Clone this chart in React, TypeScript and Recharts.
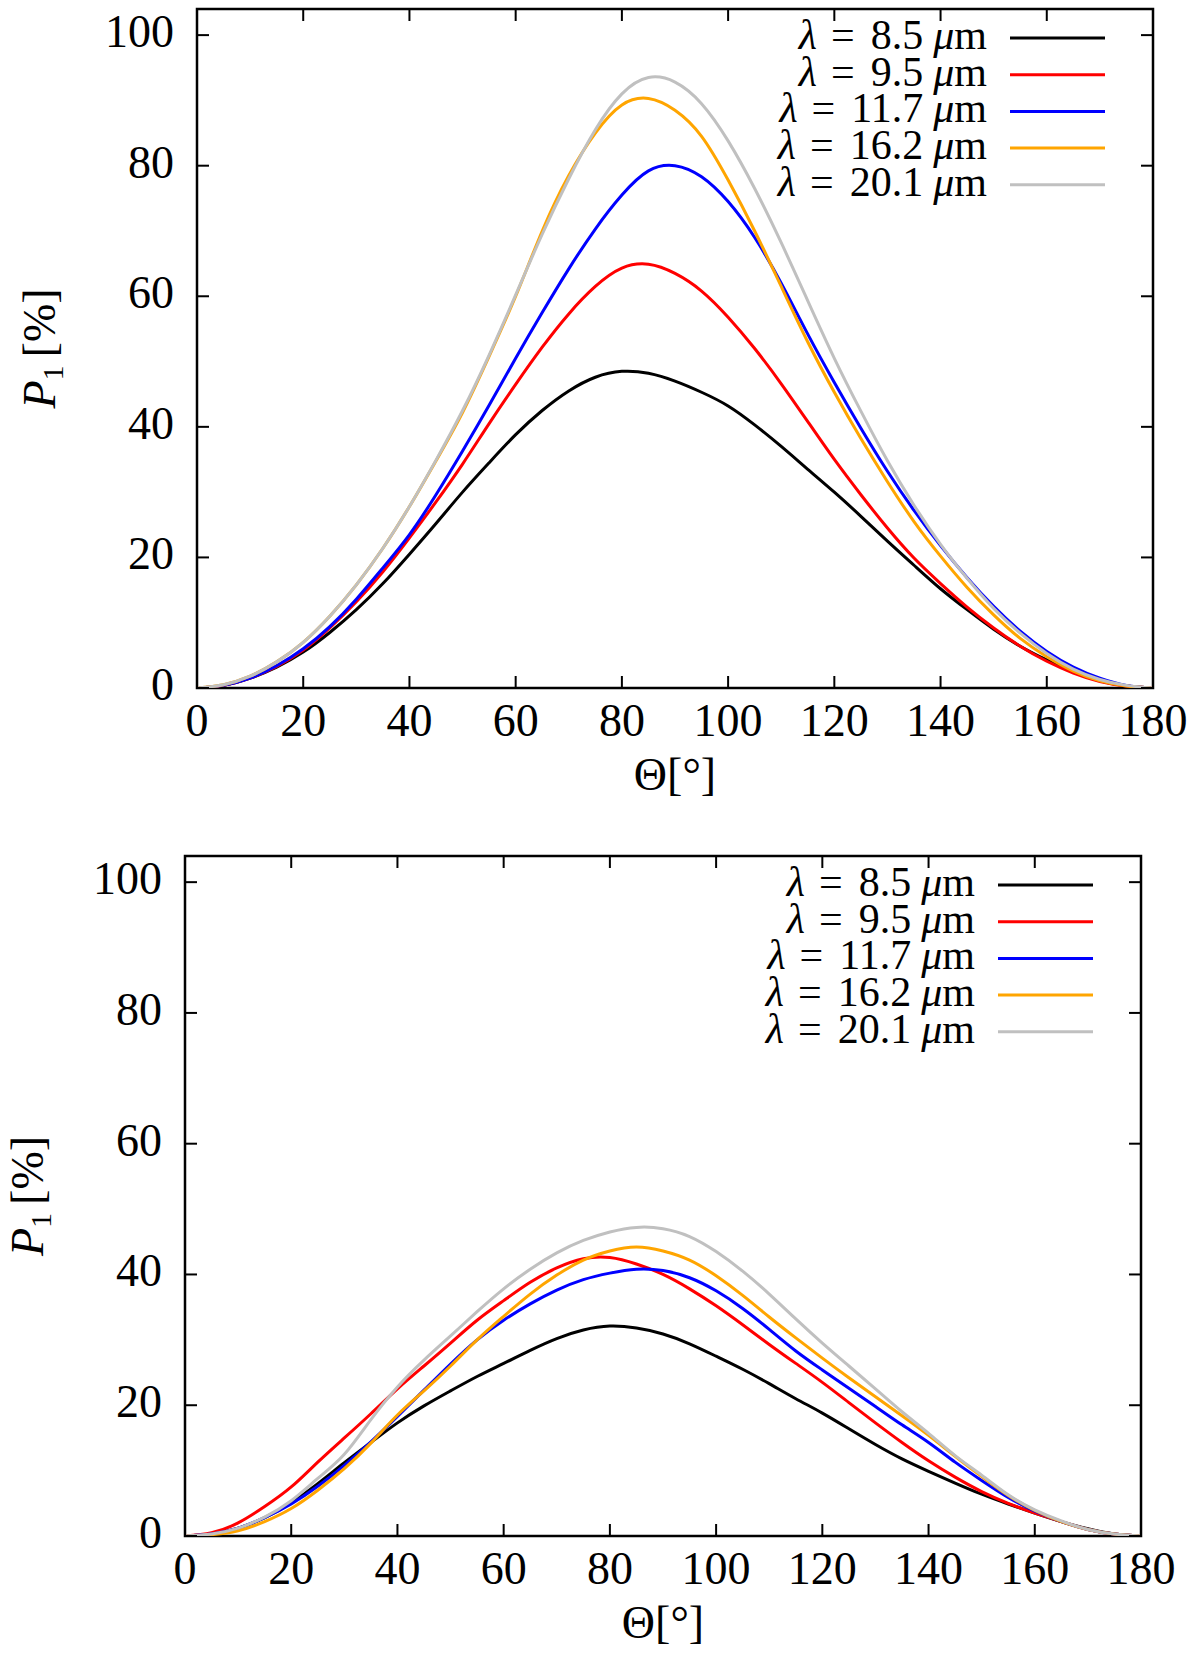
import React from "react";
import { LineChart, Line, XAxis, YAxis, ReferenceArea, Label } from "recharts";

// Degree of linear polarisation P1 versus scattering angle for five
// wavelengths, two stacked gnuplot-style panels.

const THETA = [
  0, 5, 10, 15, 20, 25, 30, 35, 40, 45, 50, 55, 60, 65, 70, 75, 80, 85, 90,
  95, 100, 105, 110, 115, 120, 125, 130, 135, 140, 145, 150, 155, 160, 165, 170,
  175, 180,
];

const X_TICKS = [0, 20, 40, 60, 80, 100, 120, 140, 160, 180];
const Y_TICKS = [0, 20, 40, 60, 80, 100];

const WAVELENGTHS = ["8.5", "9.5", "11.7", "16.2", "20.1"];
const COLORS = ["#000000", "#ff0000", "#0000ff", "#ffa500", "#c0c0c0"];

// upper panel
const TOP_85 = [
  0, 0.4, 1.5, 3.2, 5.5, 8.5, 12, 16, 20.5, 25.2, 30, 34.5, 38.8, 42.5, 45.5,
  47.6, 48.5, 48.2, 47, 45.3, 43.2, 40.3, 37, 33.5, 30, 26.3, 22.5, 18.8, 15.2,
  12, 9, 6.4, 4.3, 2.5, 1.1, 0.3, 0,
];
const TOP_95 = [
  0, 0.4, 1.5, 3.3, 5.8, 9.2, 13.2, 17.8, 23, 28.5, 34.3, 40.5, 46.5, 52.2,
  57.3, 61.5, 64.3, 64.9, 63.5, 60.8, 56.8, 52, 46.6, 40.8, 35, 29.6, 24.5,
  19.9, 16, 12.4, 9.2, 6.4, 4.1, 2.3, 1, 0.3, 0,
];
const TOP_117 = [
  0, 0.4, 1.5, 3.4, 6, 9.4, 13.6, 18.4, 23.5, 29.6, 36.3, 43.3, 50.5, 57.5,
  64.2, 70.3, 75.5, 79.2, 80, 78.3, 74.5, 69, 62, 54.2, 46.8, 39.8, 33.2, 27.2,
  21.8, 16.9, 12.5, 8.7, 5.6, 3.2, 1.5, 0.4, 0,
];
const TOP_162 = [
  0, 0.5, 1.8, 4, 7, 11, 15.8, 21.4, 27.8, 34.8, 42.2, 50.8, 60, 70, 78.5, 85,
  89.3, 90.3, 88.5, 84.5, 77.8, 70, 61.5, 53, 45.3, 38.2, 31.6, 25.5, 20.2,
  15.4, 11.2, 7.6, 4.8, 2.6, 1.1, 0.3, 0,
];
const TOP_201 = [
  0, 0.5, 1.8, 4, 7, 11, 15.8, 21.4, 27.8, 34.9, 42.5, 51, 60.2, 69.5, 78,
  85.5, 91, 93.5, 92.8, 89.5, 83.8, 76.5, 68.2, 59.3, 50.5, 42.4, 34.8, 28, 22,
  16.8, 12.2, 8.4, 5.3, 2.9, 1.3, 0.4, 0,
];

// lower panel
const BOT_85 = [
  0, 0.3, 1.2, 2.8, 5.1, 8, 11.2, 14.3, 17.3, 19.9, 22.2, 24.4, 26.4, 28.4,
  30.2, 31.5, 32.1, 31.8, 30.9, 29.4, 27.5, 25.5, 23.3, 21, 18.8, 16.4, 14,
  11.8, 9.9, 8.1, 6.4, 4.9, 3.5, 2.2, 1.1, 0.3, 0,
];
const BOT_95 = [
  0, 0.5, 2, 4.5, 7.5, 11.3, 15, 18.7, 22.5, 26, 29.5, 33, 36, 38.8, 41, 42.4,
  42.6, 41.6, 40, 37.8, 35.2, 32.3, 29.3, 26.4, 23.5, 20.4, 17.3, 14.3, 11.5,
  9, 6.8, 5, 3.5, 2.2, 1, 0.3, 0,
];
const BOT_117 = [
  0, 0.3, 1.2, 2.8, 4.9, 7.6, 10.8, 14.4, 18.3, 22.3, 26.3, 30, 33, 35.5, 37.6,
  39.2, 40.2, 40.8, 40.6, 39.5, 37.5, 34.8, 31.6, 28.3, 25.4, 22.6, 19.8, 17,
  14.3, 11.3, 8.5, 5.9, 3.8, 2.2, 1, 0.3, 0,
];
const BOT_162 = [
  0, 0.2, 0.8, 2.2, 4.2, 7, 10.3, 14.2, 18.5, 22.2, 26, 30, 33.6, 37, 39.9,
  42.2, 43.6, 44.2, 43.6, 42.2, 39.8, 36.8, 33.5, 30.3, 27.2, 24.2, 21.3, 18.4,
  15.4, 12.2, 9.1, 6.2, 3.9, 2.2, 1, 0.3, 0,
];
const BOT_201 = [
  0, 0.3, 1.2, 2.9, 5.4, 8.8, 12.5, 17.8, 22.8, 26.9, 30.6, 34.3, 37.8, 40.8,
  43.3, 45.2, 46.5, 47.2, 47, 45.8, 43.5, 40.5, 37, 33.2, 29.5, 26, 22.5, 19,
  15.7, 12.3, 9.3, 6.3, 4, 2.3, 1, 0.3, 0,
];

const FONT = "'Liberation Serif', 'DejaVu Serif', serif";
const TICK_LEN = 12;

function toRows(series: number[][]) {
  return THETA.map((t, i) => {
    const row: Record<string, number> = { theta: t };
    series.forEach((s, k) => {
      row["s" + k] = s[i];
    });
    return row;
  });
}

type PanelProps = {
  series: number[][];
  width: number;
  height: number;
  margin: { top: number; right: number; bottom: number; left: number };
};

const Y_AXIS_W = 60;
const X_AXIS_H = 60;

function Panel({ series, width, height, margin }: PanelProps) {
  const data = toRows(series);
  const plotW = width - margin.left - margin.right - Y_AXIS_W;
  const plotH = height - margin.top - margin.bottom - X_AXIS_H;
  const plotLeft = margin.left + Y_AXIS_W;
  const plotRight = plotLeft + plotW;
  const plotTop = margin.top;

  const XTick = (p: any) => {
    const { x, y, payload } = p;
    return (
      <g>
        <line x1={x} y1={y} x2={x} y2={y - TICK_LEN} stroke="#000" strokeWidth={2} />
        <line x1={x} y1={y - plotH} x2={x} y2={y - plotH + TICK_LEN} stroke="#000" strokeWidth={2} />
        <text x={x} y={y + 48} textAnchor="middle" fontFamily={FONT} fontSize={46} fill="#000">
          {payload.value}
        </text>
      </g>
    );
  };

  const YTick = (p: any) => {
    const { x, y, payload } = p;
    return (
      <g>
        <line x1={x} y1={y} x2={x + TICK_LEN} y2={y} stroke="#000" strokeWidth={2} />
        <line x1={x + plotW} y1={y} x2={x + plotW - TICK_LEN} y2={y} stroke="#000" strokeWidth={2} />
        <text x={x - 23} y={y + 12} textAnchor="end" fontFamily={FONT} fontSize={46} fill="#000">
          {payload.value}
        </text>
      </g>
    );
  };

  const XLabel = (p: any) => {
    const vb = p.viewBox;
    return (
      <text
        x={vb.x + vb.width / 2}
        y={vb.y + 102}
        textAnchor="middle"
        fontFamily={FONT}
        fontSize={46}
        fill="#000"
      >
        Θ[°]
      </text>
    );
  };

  const YLabel = (p: any) => {
    const vb = p.viewBox;
    const cx = vb.x + vb.width - 142;
    const cy = vb.y + vb.height / 2;
    return (
      <text
        transform={`translate(${cx},${cy}) rotate(-90)`}
        textAnchor="middle"
        fontFamily={FONT}
        fontSize={46}
        fill="#000"
      >
        <tspan fontStyle="italic">P</tspan>
        <tspan fontSize={30} dy={8}>1</tspan>
        <tspan dy={-8} dx={8}>[%]</tspan>
      </text>
    );
  };

  return (
    <div style={{ position: "relative", width, height }}>
      <LineChart width={width} height={height} data={data} margin={margin}>
        <XAxis
          dataKey="theta"
          type="number"
          domain={[0, 180]}
          ticks={X_TICKS}
          interval={0}
          height={X_AXIS_H}
          axisLine={false}
          tickSize={0}
          tickMargin={0}
          tick={XTick}
          allowDataOverflow
        >
          <Label content={XLabel} />
        </XAxis>
        <YAxis
          type="number"
          domain={[0, 104]}
          ticks={Y_TICKS}
          interval={0}
          width={Y_AXIS_W}
          axisLine={false}
          tickSize={0}
          tickMargin={0}
          tick={YTick}
          allowDataOverflow
        >
          <Label content={YLabel} />
        </YAxis>
        <ReferenceArea
          x1={0}
          x2={180}
          y1={0}
          y2={104}
          fill="none"
          fillOpacity={0}
          stroke="#000"
          strokeWidth={2.5}
          strokeOpacity={1}
        />
        {series.map((_, k) => (
          <Line
            key={k}
            dataKey={"s" + k}
            type="natural"
            stroke={COLORS[k]}
            strokeWidth={3}
            dot={false}
            activeDot={false}
            isAnimationActive={false}
          />
        ))}
      </LineChart>
      <svg
        width={width}
        height={height}
        style={{ position: "absolute", left: 0, top: 0, pointerEvents: "none" }}
      >
        {WAVELENGTHS.map((w, k) => {
          const cy = plotTop + 29 + k * 36.7;
          return (
            <g key={w}>
              <text
                x={plotRight - 166}
                y={cy + 11}
                textAnchor="end"
                fontFamily={FONT}
                fontSize={42}
                fill="#000"
              >
                <tspan fontStyle="italic">λ</tspan>
                <tspan dx={14}>=</tspan>
                <tspan dx={16}>{w}</tspan>
                <tspan dx={10} fontStyle="italic">μ</tspan>
                <tspan>m</tspan>
              </text>
              <line
                x1={plotRight - 143}
                x2={plotRight - 48}
                y1={cy}
                y2={cy}
                stroke={COLORS[k]}
                strokeWidth={3}
              />
            </g>
          );
        })}
      </svg>
    </div>
  );
}

export default function App() {
  return (
    <div
      style={{
        position: "absolute",
        left: 0,
        top: 0,
        width: 1200,
        height: 1655,
        background: "#fff",
      }}
    >
      <Panel
        series={[TOP_85, TOP_95, TOP_117, TOP_162, TOP_201]}
        width={1200}
        height={828}
        margin={{ top: 9, right: 47, bottom: 80, left: 137 }}
      />
      <Panel
        series={[BOT_85, BOT_95, BOT_117, BOT_162, BOT_201]}
        width={1200}
        height={827}
        margin={{ top: 28, right: 59, bottom: 59, left: 125 }}
      />
    </div>
  );
}
